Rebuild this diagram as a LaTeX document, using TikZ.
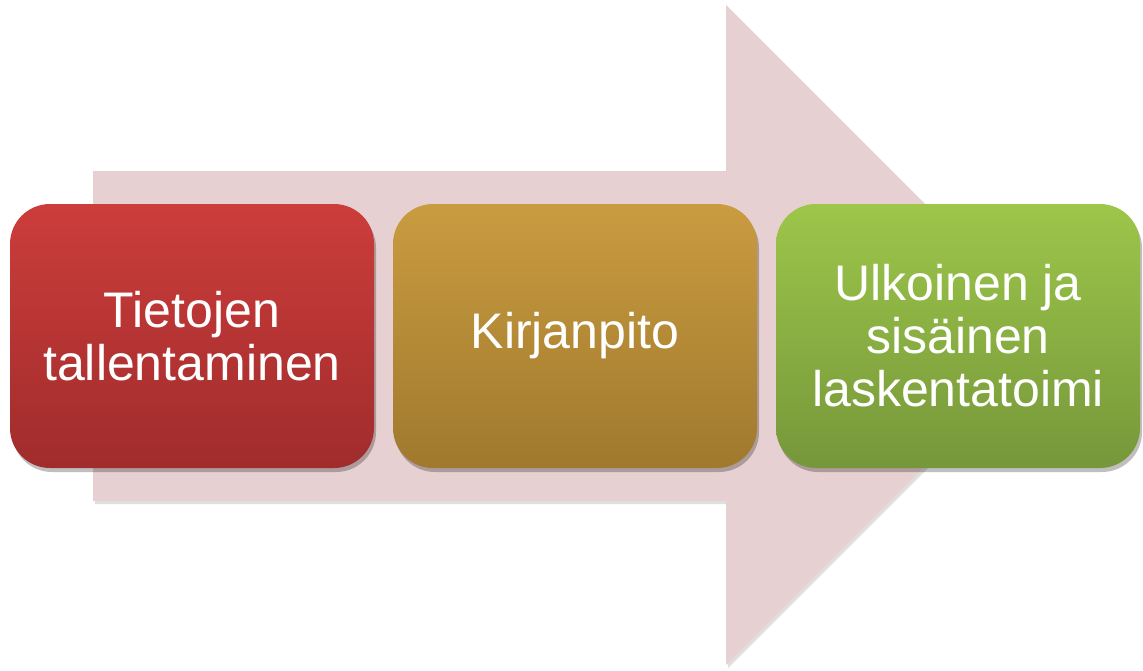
\documentclass[tikz,border=0pt]{standalone}
\usepackage{fontspec}
\setmainfont{Liberation Sans}
\usetikzlibrary{shadows}
\definecolor{arrowfill}{HTML}{E7D0D1}
\definecolor{redtop}{HTML}{CC3D3B}
\definecolor{redbot}{HTML}{A02C2C}
\definecolor{goldtop}{HTML}{CA9C40}
\definecolor{goldbot}{HTML}{A0792E}
\definecolor{greentop}{HTML}{9DC64A}
\definecolor{greenbot}{HTML}{76973A}
\tikzset{
  stagebox/.style={rounded corners=40pt, minimum width=364pt, minimum height=264pt,
    inner sep=0pt, text=white, align=center,
    font=\fontsize{50}{53}\selectfont,
    drop shadow={shadow xshift=2pt, shadow yshift=-4pt, opacity=0.25, fill=black}},
}
\begin{document}
\begin{tikzpicture}[x=1pt,y=-1pt]
\useasboundingbox (0,0) rectangle (1143,670);
% big arrow
\fill[black!25, opacity=0.5] (95,174) -- (728,174) -- (728,8) -- (1058,338) -- (728,668) -- (728,504) -- (95,504) -- cycle;
\fill[arrowfill] (93,171) -- (726,171) -- (726,5) -- (1056,335) -- (726,665) -- (726,501) -- (93,501) -- cycle;
% boxes
\node[stagebox, top color=redtop, bottom color=redbot] (a) at (192,336) {Tietojen\\tallentaminen};
\node[stagebox, top color=goldtop, bottom color=goldbot] (b) at (575,336) {Kirjanpito};
\node[stagebox, top color=greentop, bottom color=greenbot] (c) at (958,336) {Ulkoinen ja\\sisäinen\\laskentatoimi};
\end{tikzpicture}
\end{document}
